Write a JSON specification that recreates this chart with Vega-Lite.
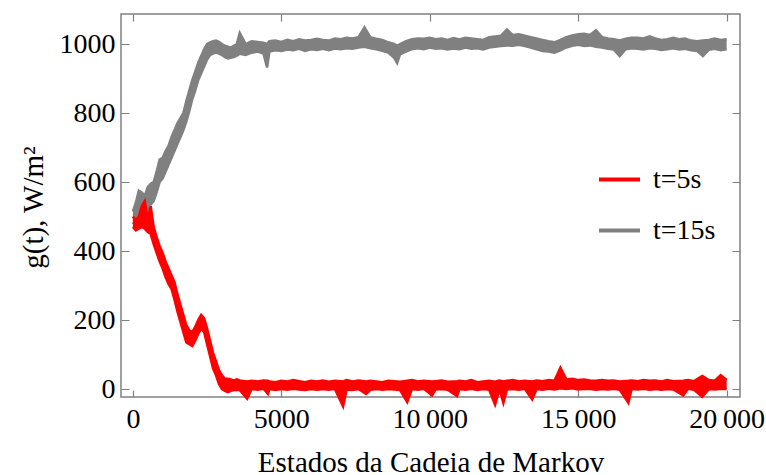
{
  "$schema": "https://vega.github.io/schema/vega-lite/v6.json",
  "width": 619,
  "height": 383,
  "autosize": "none",
  "padding": {"left": 121, "top": 14, "right": 26, "bottom": 78},
  "background": "white",
  "config": {
    "view": {"stroke": "#808080", "strokeWidth": 1.5},
    "axis": {"domain": false, "ticks": false, "grid": true, "gridColor": "#808080", "gridWidth": 1.2, "gridOpacity": 1, "labelFont": "Liberation Serif", "labelFontSize": 28, "labelColor": "black", "titleFont": "Liberation Serif", "titleFontSize": 29, "titleFontWeight": "normal", "titleColor": "black", "labelOverlap": false, "labelFlush": false},
    "legend": {"orient": "none", "legendX": 476, "legendY": 143, "symbolType": "stroke", "symbolStrokeWidth": 4, "symbolSize": 1681, "labelFont": "Liberation Serif", "labelFontSize": 28, "labelColor": "black", "labelOffset": 11, "rowPadding": 14, "padding": 0, "symbolOpacity": 1}
  },
  "datasets": {
    "d": [
      {"s": "t=15s", "x": 0, "lo": 478, "hi": 515},
      {"s": "t=15s", "x": 100, "lo": 490, "hi": 540},
      {"s": "t=15s", "x": 200, "lo": 505, "hi": 575},
      {"s": "t=15s", "x": 300, "lo": 510, "hi": 570},
      {"s": "t=15s", "x": 400, "lo": 505, "hi": 560},
      {"s": "t=15s", "x": 500, "lo": 520, "hi": 585},
      {"s": "t=15s", "x": 600, "lo": 535, "hi": 595},
      {"s": "t=15s", "x": 700, "lo": 545, "hi": 600},
      {"s": "t=15s", "x": 800, "lo": 570, "hi": 630},
      {"s": "t=15s", "x": 900, "lo": 600, "hi": 665},
      {"s": "t=15s", "x": 1000, "lo": 610, "hi": 670},
      {"s": "t=15s", "x": 1100, "lo": 630, "hi": 690},
      {"s": "t=15s", "x": 1200, "lo": 650, "hi": 705},
      {"s": "t=15s", "x": 1300, "lo": 670, "hi": 730},
      {"s": "t=15s", "x": 1400, "lo": 690, "hi": 750},
      {"s": "t=15s", "x": 1500, "lo": 710, "hi": 770},
      {"s": "t=15s", "x": 1600, "lo": 730, "hi": 785},
      {"s": "t=15s", "x": 1700, "lo": 750, "hi": 800},
      {"s": "t=15s", "x": 1800, "lo": 775, "hi": 835},
      {"s": "t=15s", "x": 1900, "lo": 805, "hi": 865},
      {"s": "t=15s", "x": 2000, "lo": 840, "hi": 895},
      {"s": "t=15s", "x": 2100, "lo": 865, "hi": 920},
      {"s": "t=15s", "x": 2200, "lo": 895, "hi": 945},
      {"s": "t=15s", "x": 2300, "lo": 915, "hi": 965},
      {"s": "t=15s", "x": 2400, "lo": 935, "hi": 985},
      {"s": "t=15s", "x": 2500, "lo": 955, "hi": 1000},
      {"s": "t=15s", "x": 2600, "lo": 968, "hi": 1005},
      {"s": "t=15s", "x": 2700, "lo": 972, "hi": 1008},
      {"s": "t=15s", "x": 2800, "lo": 975, "hi": 1010},
      {"s": "t=15s", "x": 2900, "lo": 972, "hi": 1006},
      {"s": "t=15s", "x": 3000, "lo": 968, "hi": 1000},
      {"s": "t=15s", "x": 3100, "lo": 962, "hi": 995},
      {"s": "t=15s", "x": 3200, "lo": 958, "hi": 992},
      {"s": "t=15s", "x": 3300, "lo": 960, "hi": 990},
      {"s": "t=15s", "x": 3400, "lo": 962, "hi": 995},
      {"s": "t=15s", "x": 3500, "lo": 966, "hi": 1000},
      {"s": "t=15s", "x": 3600, "lo": 972, "hi": 1032},
      {"s": "t=15s", "x": 3800, "lo": 968, "hi": 1000},
      {"s": "t=15s", "x": 4000, "lo": 975, "hi": 1008},
      {"s": "t=15s", "x": 4200, "lo": 978, "hi": 1006},
      {"s": "t=15s", "x": 4400, "lo": 972, "hi": 1004},
      {"s": "t=15s", "x": 4520, "lo": 932, "hi": 1000},
      {"s": "t=15s", "x": 4600, "lo": 978, "hi": 1008},
      {"s": "t=15s", "x": 4800, "lo": 982, "hi": 1010},
      {"s": "t=15s", "x": 5000, "lo": 980, "hi": 1006},
      {"s": "t=15s", "x": 5200, "lo": 984, "hi": 1012},
      {"s": "t=15s", "x": 5400, "lo": 982, "hi": 1008},
      {"s": "t=15s", "x": 5600, "lo": 986, "hi": 1014},
      {"s": "t=15s", "x": 5800, "lo": 980, "hi": 1010},
      {"s": "t=15s", "x": 6000, "lo": 985, "hi": 1012},
      {"s": "t=15s", "x": 6200, "lo": 983, "hi": 1015},
      {"s": "t=15s", "x": 6400, "lo": 986, "hi": 1012},
      {"s": "t=15s", "x": 6600, "lo": 982, "hi": 1010},
      {"s": "t=15s", "x": 6800, "lo": 987, "hi": 1016},
      {"s": "t=15s", "x": 7000, "lo": 985, "hi": 1014},
      {"s": "t=15s", "x": 7200, "lo": 988, "hi": 1018},
      {"s": "t=15s", "x": 7400, "lo": 986, "hi": 1016},
      {"s": "t=15s", "x": 7600, "lo": 990, "hi": 1020},
      {"s": "t=15s", "x": 7800, "lo": 992, "hi": 1048},
      {"s": "t=15s", "x": 8000, "lo": 988, "hi": 1020},
      {"s": "t=15s", "x": 8200, "lo": 985, "hi": 1015},
      {"s": "t=15s", "x": 8400, "lo": 980, "hi": 1012},
      {"s": "t=15s", "x": 8600, "lo": 975, "hi": 1005},
      {"s": "t=15s", "x": 8800, "lo": 960, "hi": 1000},
      {"s": "t=15s", "x": 8900, "lo": 945, "hi": 995},
      {"s": "t=15s", "x": 9000, "lo": 970, "hi": 1000},
      {"s": "t=15s", "x": 9200, "lo": 978, "hi": 1008},
      {"s": "t=15s", "x": 9400, "lo": 985, "hi": 1014},
      {"s": "t=15s", "x": 9600, "lo": 988, "hi": 1016},
      {"s": "t=15s", "x": 9800, "lo": 985, "hi": 1015},
      {"s": "t=15s", "x": 10000, "lo": 990, "hi": 1018},
      {"s": "t=15s", "x": 10200, "lo": 986, "hi": 1014},
      {"s": "t=15s", "x": 10400, "lo": 988, "hi": 1016},
      {"s": "t=15s", "x": 10600, "lo": 984, "hi": 1012},
      {"s": "t=15s", "x": 10800, "lo": 987, "hi": 1017},
      {"s": "t=15s", "x": 11000, "lo": 985, "hi": 1013},
      {"s": "t=15s", "x": 11200, "lo": 990, "hi": 1018},
      {"s": "t=15s", "x": 11400, "lo": 986, "hi": 1016},
      {"s": "t=15s", "x": 11600, "lo": 988, "hi": 1014},
      {"s": "t=15s", "x": 11800, "lo": 984, "hi": 1012},
      {"s": "t=15s", "x": 12000, "lo": 990, "hi": 1020},
      {"s": "t=15s", "x": 12200, "lo": 992, "hi": 1022},
      {"s": "t=15s", "x": 12400, "lo": 994, "hi": 1024},
      {"s": "t=15s", "x": 12600, "lo": 996, "hi": 1042},
      {"s": "t=15s", "x": 12800, "lo": 995, "hi": 1026},
      {"s": "t=15s", "x": 13000, "lo": 998, "hi": 1028},
      {"s": "t=15s", "x": 13200, "lo": 994, "hi": 1024},
      {"s": "t=15s", "x": 13400, "lo": 990, "hi": 1020},
      {"s": "t=15s", "x": 13600, "lo": 985, "hi": 1016},
      {"s": "t=15s", "x": 13800, "lo": 980, "hi": 1012},
      {"s": "t=15s", "x": 14000, "lo": 978, "hi": 1008},
      {"s": "t=15s", "x": 14200, "lo": 975, "hi": 1005},
      {"s": "t=15s", "x": 14400, "lo": 982, "hi": 1012},
      {"s": "t=15s", "x": 14600, "lo": 990, "hi": 1020},
      {"s": "t=15s", "x": 14800, "lo": 995, "hi": 1025},
      {"s": "t=15s", "x": 15000, "lo": 998, "hi": 1028},
      {"s": "t=15s", "x": 15200, "lo": 994, "hi": 1030},
      {"s": "t=15s", "x": 15400, "lo": 996, "hi": 1026},
      {"s": "t=15s", "x": 15600, "lo": 992, "hi": 1040},
      {"s": "t=15s", "x": 15800, "lo": 990, "hi": 1020},
      {"s": "t=15s", "x": 16000, "lo": 986, "hi": 1016},
      {"s": "t=15s", "x": 16200, "lo": 984, "hi": 1014},
      {"s": "t=15s", "x": 16400, "lo": 965, "hi": 1010},
      {"s": "t=15s", "x": 16600, "lo": 985, "hi": 1015},
      {"s": "t=15s", "x": 16800, "lo": 988, "hi": 1018},
      {"s": "t=15s", "x": 17000, "lo": 986, "hi": 1018},
      {"s": "t=15s", "x": 17200, "lo": 984, "hi": 1016},
      {"s": "t=15s", "x": 17400, "lo": 988, "hi": 1022},
      {"s": "t=15s", "x": 17600, "lo": 986, "hi": 1016},
      {"s": "t=15s", "x": 17800, "lo": 983, "hi": 1012},
      {"s": "t=15s", "x": 18000, "lo": 985, "hi": 1014},
      {"s": "t=15s", "x": 18200, "lo": 988, "hi": 1018},
      {"s": "t=15s", "x": 18400, "lo": 984, "hi": 1014},
      {"s": "t=15s", "x": 18600, "lo": 986, "hi": 1016},
      {"s": "t=15s", "x": 18800, "lo": 982, "hi": 1010},
      {"s": "t=15s", "x": 19000, "lo": 980, "hi": 1008},
      {"s": "t=15s", "x": 19200, "lo": 965, "hi": 1010},
      {"s": "t=15s", "x": 19400, "lo": 983, "hi": 1012},
      {"s": "t=15s", "x": 19600, "lo": 986, "hi": 1016},
      {"s": "t=15s", "x": 19800, "lo": 982, "hi": 1012},
      {"s": "t=15s", "x": 20000, "lo": 985, "hi": 1014},
      {"s": "t=5s", "x": 0, "lo": 470, "hi": 500},
      {"s": "t=5s", "x": 100, "lo": 460, "hi": 490},
      {"s": "t=5s", "x": 200, "lo": 465, "hi": 500},
      {"s": "t=5s", "x": 300, "lo": 470, "hi": 530},
      {"s": "t=5s", "x": 400, "lo": 465, "hi": 545},
      {"s": "t=5s", "x": 500, "lo": 455, "hi": 495},
      {"s": "t=5s", "x": 600, "lo": 450, "hi": 530},
      {"s": "t=5s", "x": 700, "lo": 420, "hi": 470},
      {"s": "t=5s", "x": 800, "lo": 395, "hi": 440},
      {"s": "t=5s", "x": 900, "lo": 370, "hi": 415},
      {"s": "t=5s", "x": 1000, "lo": 350, "hi": 395},
      {"s": "t=5s", "x": 1100, "lo": 325, "hi": 370},
      {"s": "t=5s", "x": 1200, "lo": 305, "hi": 350},
      {"s": "t=5s", "x": 1300, "lo": 290, "hi": 330},
      {"s": "t=5s", "x": 1400, "lo": 260, "hi": 310},
      {"s": "t=5s", "x": 1500, "lo": 225, "hi": 275},
      {"s": "t=5s", "x": 1600, "lo": 195, "hi": 245},
      {"s": "t=5s", "x": 1700, "lo": 165, "hi": 215},
      {"s": "t=5s", "x": 1800, "lo": 135, "hi": 185},
      {"s": "t=5s", "x": 1900, "lo": 130, "hi": 170},
      {"s": "t=5s", "x": 2000, "lo": 125, "hi": 165},
      {"s": "t=5s", "x": 2100, "lo": 140, "hi": 180},
      {"s": "t=5s", "x": 2200, "lo": 160, "hi": 200},
      {"s": "t=5s", "x": 2300, "lo": 175, "hi": 215},
      {"s": "t=5s", "x": 2400, "lo": 165, "hi": 205},
      {"s": "t=5s", "x": 2500, "lo": 130, "hi": 175},
      {"s": "t=5s", "x": 2600, "lo": 95, "hi": 140},
      {"s": "t=5s", "x": 2700, "lo": 60, "hi": 105},
      {"s": "t=5s", "x": 2800, "lo": 40, "hi": 80},
      {"s": "t=5s", "x": 2900, "lo": 15, "hi": 55},
      {"s": "t=5s", "x": 3000, "lo": 0, "hi": 40},
      {"s": "t=5s", "x": 3100, "lo": -5, "hi": 30},
      {"s": "t=5s", "x": 3200, "lo": -9, "hi": 30},
      {"s": "t=5s", "x": 3300, "lo": -5, "hi": 28},
      {"s": "t=5s", "x": 3400, "lo": -3, "hi": 25},
      {"s": "t=5s", "x": 3500, "lo": -2, "hi": 28},
      {"s": "t=5s", "x": 3600, "lo": -3, "hi": 25},
      {"s": "t=5s", "x": 3850, "lo": -28, "hi": 22},
      {"s": "t=5s", "x": 4000, "lo": 0, "hi": 24},
      {"s": "t=5s", "x": 4200, "lo": -2, "hi": 22},
      {"s": "t=5s", "x": 4400, "lo": 1, "hi": 25},
      {"s": "t=5s", "x": 4550, "lo": -14, "hi": 24},
      {"s": "t=5s", "x": 4600, "lo": 0, "hi": 22},
      {"s": "t=5s", "x": 4800, "lo": -3, "hi": 20},
      {"s": "t=5s", "x": 5000, "lo": 0, "hi": 24},
      {"s": "t=5s", "x": 5200, "lo": -2, "hi": 22},
      {"s": "t=5s", "x": 5400, "lo": 1, "hi": 26},
      {"s": "t=5s", "x": 5600, "lo": -1, "hi": 23},
      {"s": "t=5s", "x": 5800, "lo": -3, "hi": 20},
      {"s": "t=5s", "x": 6000, "lo": 0, "hi": 24},
      {"s": "t=5s", "x": 6200, "lo": -2, "hi": 22},
      {"s": "t=5s", "x": 6400, "lo": 0, "hi": 25},
      {"s": "t=5s", "x": 6600, "lo": -2, "hi": 21},
      {"s": "t=5s", "x": 6800, "lo": 1, "hi": 24},
      {"s": "t=5s", "x": 7080, "lo": -50, "hi": 22},
      {"s": "t=5s", "x": 7200, "lo": -1, "hi": 26},
      {"s": "t=5s", "x": 7400, "lo": -3, "hi": 22},
      {"s": "t=5s", "x": 7600, "lo": 0, "hi": 25},
      {"s": "t=5s", "x": 7850, "lo": -14, "hi": 22},
      {"s": "t=5s", "x": 8000, "lo": -2, "hi": 24},
      {"s": "t=5s", "x": 8200, "lo": 0, "hi": 22},
      {"s": "t=5s", "x": 8400, "lo": -2, "hi": 20},
      {"s": "t=5s", "x": 8600, "lo": 0, "hi": 24},
      {"s": "t=5s", "x": 8800, "lo": -1, "hi": 23},
      {"s": "t=5s", "x": 9000, "lo": -3, "hi": 21},
      {"s": "t=5s", "x": 9240, "lo": -38, "hi": 24},
      {"s": "t=5s", "x": 9400, "lo": 0, "hi": 26},
      {"s": "t=5s", "x": 9600, "lo": -2, "hi": 22},
      {"s": "t=5s", "x": 9800, "lo": 1, "hi": 24},
      {"s": "t=5s", "x": 10080, "lo": -18, "hi": 22},
      {"s": "t=5s", "x": 10200, "lo": -1, "hi": 23},
      {"s": "t=5s", "x": 10400, "lo": 0, "hi": 25},
      {"s": "t=5s", "x": 10600, "lo": -2, "hi": 21},
      {"s": "t=5s", "x": 10920, "lo": -20, "hi": 23},
      {"s": "t=5s", "x": 11000, "lo": 0, "hi": 24},
      {"s": "t=5s", "x": 11200, "lo": -2, "hi": 22},
      {"s": "t=5s", "x": 11400, "lo": 1, "hi": 26},
      {"s": "t=5s", "x": 11600, "lo": -3, "hi": 20},
      {"s": "t=5s", "x": 11800, "lo": 0, "hi": 22},
      {"s": "t=5s", "x": 12000, "lo": -2, "hi": 24},
      {"s": "t=5s", "x": 12200, "lo": -45, "hi": 21},
      {"s": "t=5s", "x": 12350, "lo": 0, "hi": 25},
      {"s": "t=5s", "x": 12480, "lo": -40, "hi": 22},
      {"s": "t=5s", "x": 12600, "lo": -1, "hi": 24},
      {"s": "t=5s", "x": 12800, "lo": 0, "hi": 26},
      {"s": "t=5s", "x": 13000, "lo": -2, "hi": 22},
      {"s": "t=5s", "x": 13200, "lo": 1, "hi": 24},
      {"s": "t=5s", "x": 13450, "lo": -30, "hi": 22},
      {"s": "t=5s", "x": 13600, "lo": 0, "hi": 25},
      {"s": "t=5s", "x": 13800, "lo": -2, "hi": 23},
      {"s": "t=5s", "x": 14000, "lo": 1, "hi": 26},
      {"s": "t=5s", "x": 14200, "lo": -1, "hi": 24},
      {"s": "t=5s", "x": 14400, "lo": 2, "hi": 62},
      {"s": "t=5s", "x": 14600, "lo": 0, "hi": 28},
      {"s": "t=5s", "x": 14800, "lo": 2, "hi": 30},
      {"s": "t=5s", "x": 15000, "lo": -1, "hi": 26},
      {"s": "t=5s", "x": 15200, "lo": 1, "hi": 28},
      {"s": "t=5s", "x": 15400, "lo": 0, "hi": 25},
      {"s": "t=5s", "x": 15600, "lo": -2, "hi": 24},
      {"s": "t=5s", "x": 15800, "lo": 0, "hi": 26},
      {"s": "t=5s", "x": 16000, "lo": -1, "hi": 24},
      {"s": "t=5s", "x": 16200, "lo": 1, "hi": 25},
      {"s": "t=5s", "x": 16400, "lo": -2, "hi": 22},
      {"s": "t=5s", "x": 16690, "lo": -40, "hi": 24},
      {"s": "t=5s", "x": 16800, "lo": 0, "hi": 25},
      {"s": "t=5s", "x": 17000, "lo": -1, "hi": 23},
      {"s": "t=5s", "x": 17200, "lo": 1, "hi": 26},
      {"s": "t=5s", "x": 17400, "lo": -2, "hi": 24},
      {"s": "t=5s", "x": 17600, "lo": 0, "hi": 25},
      {"s": "t=5s", "x": 17800, "lo": -2, "hi": 22},
      {"s": "t=5s", "x": 18000, "lo": 0, "hi": 26},
      {"s": "t=5s", "x": 18200, "lo": -1, "hi": 23},
      {"s": "t=5s", "x": 18540, "lo": -18, "hi": 24},
      {"s": "t=5s", "x": 18700, "lo": 1, "hi": 26},
      {"s": "t=5s", "x": 18900, "lo": -2, "hi": 23},
      {"s": "t=5s", "x": 19180, "lo": -22, "hi": 38},
      {"s": "t=5s", "x": 19400, "lo": 0, "hi": 26},
      {"s": "t=5s", "x": 19600, "lo": -1, "hi": 24},
      {"s": "t=5s", "x": 19800, "lo": 1, "hi": 40},
      {"s": "t=5s", "x": 20000, "lo": 0, "hi": 26}
    ]
  },
  "data": {"name": "d"},
  "layer": [
    {
      "transform": [{"filter": "datum.s === 't=15s'"}],
      "mark": {"type": "area", "opacity": 1},
      "encoding": {
        "x": {"field": "x", "type": "quantitative", "scale": {"domain": [-400, 20450], "nice": false, "zero": false},
          "axis": {"orient": "bottom", "title": "Estados da Cadeia de Markov", "values": [0, 5000, 10000, 15000, 20000], "gridDash": [7, 369],
            "labelExpr": "datum.value >= 10000 ? format(datum.value/1000,'d') + '\u2009000' : format(datum.value,'d')",
            "labelPadding": 8, "titleY": 65, "titleBaseline": "middle"}},
        "y": {"field": "lo", "type": "quantitative", "scale": {"domain": [-23, 1087], "nice": false, "zero": false},
          "axis": {"orient": "left", "title": "g(t), W/m²", "values": [0, 200, 400, 600, 800, 1000], "gridDash": [8, 603], "format": "d",
            "labelPadding": 6, "titleX": -88, "titleY": 193, "titleAlign": "center", "titleBaseline": "middle", "titleAngle": 270}},
        "y2": {"field": "hi"},
        "color": {"field": "s", "type": "nominal", "title": null, "scale": {"domain": ["t=5s", "t=15s"], "range": ["#ff0000", "#808080"]}}
      }
    },
    {
      "transform": [{"filter": "datum.s === 't=15s'"}],
      "mark": {"type": "line", "strokeWidth": 2.5},
      "encoding": {
        "x": {"field": "x", "type": "quantitative", "axis": {"orient": "bottom", "title": null, "labels": false, "values": [1000,2000,3000,4000,6000,7000,8000,9000,11000,12000,13000,14000,16000,17000,18000,19000], "gridDash": [4, 375]}},
        "y": {"field": "hi", "type": "quantitative", "axis": {"orient": "left", "title": null, "labels": false, "values": [50,100,150,250,300,350,450,500,550,650,700,750,850,900,950,1050], "gridDash": [4, 611]}},
        "color": {"field": "s", "type": "nominal", "title": null}
      }
    },
    {
      "transform": [{"filter": "datum.s === 't=15s'"}],
      "mark": {"type": "line", "strokeWidth": 2.5},
      "encoding": {
        "x": {"field": "x", "type": "quantitative", "axis": null},
        "y": {"field": "lo", "type": "quantitative", "axis": null},
        "color": {"field": "s", "type": "nominal", "title": null}
      }
    },
    {
      "transform": [{"filter": "datum.s === 't=5s'"}],
      "mark": {"type": "area", "opacity": 1},
      "encoding": {
        "x": {"field": "x", "type": "quantitative", "axis": null},
        "y": {"field": "lo", "type": "quantitative", "axis": null},
        "y2": {"field": "hi"},
        "color": {"field": "s", "type": "nominal", "title": null}
      }
    },
    {
      "transform": [{"filter": "datum.s === 't=5s'"}],
      "mark": {"type": "line", "strokeWidth": 2.5},
      "encoding": {
        "x": {"field": "x", "type": "quantitative", "axis": null},
        "y": {"field": "hi", "type": "quantitative", "axis": null},
        "color": {"field": "s", "type": "nominal", "title": null}
      }
    },
    {
      "transform": [{"filter": "datum.s === 't=5s'"}],
      "mark": {"type": "line", "strokeWidth": 2.5},
      "encoding": {
        "x": {"field": "x", "type": "quantitative", "axis": null},
        "y": {"field": "lo", "type": "quantitative", "axis": null},
        "color": {"field": "s", "type": "nominal", "title": null}
      }
    }
  ],
  "resolve": {"axis": {"x": "independent", "y": "independent"}}
}
